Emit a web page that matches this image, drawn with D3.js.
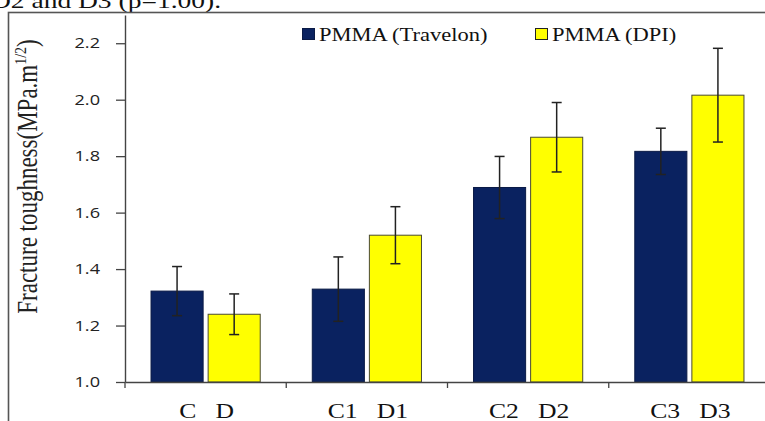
<!DOCTYPE html>
<html>
<head>
<meta charset="utf-8">
<script src="https://cdn.jsdelivr.net/npm/d3@7"></script>
<style>
  html, body { margin: 0; padding: 0; background: #fff; overflow: hidden; }
  svg { display: block; }
</style>
</head>
<body>
<svg id="chart" width="765" height="421"></svg>
<script>
// ---- data ----
const categories = ["C   D", "C1   D1", "C2   D2", "C3   D3"];
const seriesNames = ["PMMA (Travelon)", "PMMA (DPI)"];
const travelon = [1.322, 1.329, 1.689, 1.817];
const travelonSD = [0.087, 0.114, 0.110, 0.082];
const dpi = [1.240, 1.520, 1.867, 2.016];
const dpiSD = [0.072, 0.101, 0.123, 0.166];
const yTicks = [1.0, 1.2, 1.4, 1.6, 1.8, 2.0, 2.2];
const yLabel = "Fracture toughness(MPa.m";
const caption = "D2 and D3 (p=1.00).";

// ---- layout ----
const SX = 1.25;                // horizontal stretch of the original picture
const colors = ["#0a2260", "#ffff00"];
const strokes = ["#0a1a45", "#4a4a30"];
const svg = d3.select("#chart");
const plot = { left: 125, right: 770, top: 15, bottom: 382 };

const y = d3.scaleLinear().domain([1.0, 2.3]).range([plot.bottom, plot.top]);
const x = d3.scaleBand().domain(categories).range([plot.left, plot.right]).paddingInner(0).paddingOuter(0);
const xs = d3.scaleBand().domain(seriesNames).range([0, x.bandwidth()]).paddingInner(0.0877).paddingOuter(0.456);

const rows = categories.map((c, i) => ({
  cat: c,
  vals: [
    { s: seriesNames[0], v: travelon[i], sd: travelonSD[i], k: 0 },
    { s: seriesNames[1], v: dpi[i], sd: dpiSD[i], k: 1 }
  ]
}));

// caption (cut at top)
svg.append("text")
  .attr("transform", `translate(-9,8) scale(${SX},1)`)
  .attr("font-family", "'Liberation Serif','Times New Roman',serif")
  .attr("font-size", 22)
  .attr("fill", "#111")
  .text(caption);

// frame
svg.append("rect")
  .attr("x", 8.5).attr("y", 12.5).attr("width", 820).attr("height", 500)
  .attr("fill", "none").attr("stroke", "#555").attr("stroke-width", 1.6);

// bars
const g = svg.append("g");
const grp = g.selectAll("g.grp").data(rows).join("g")
  .attr("class", "grp")
  .attr("transform", d => `translate(${x(d.cat)},0)`);

grp.selectAll("rect").data(d => d.vals).join("rect")
  .attr("x", d => xs(d.s))
  .attr("y", d => y(d.v))
  .attr("width", xs.bandwidth())
  .attr("height", d => y(1.0) - y(d.v))
  .attr("fill", d => colors[d.k])
  .attr("stroke", d => strokes[d.k])
  .attr("stroke-width", 1);

// error bars
const eb = grp.selectAll("g.eb").data(d => d.vals).join("g").attr("class", "eb");
eb.append("line")
  .attr("x1", d => xs(d.s) + xs.bandwidth() / 2)
  .attr("x2", d => xs(d.s) + xs.bandwidth() / 2)
  .attr("y1", d => y(d.v + d.sd))
  .attr("y2", d => y(d.v - d.sd))
  .attr("stroke", "#222").attr("stroke-width", 1.5);
[1, -1].forEach(sgn => {
  eb.append("line")
    .attr("x1", d => xs(d.s) + xs.bandwidth() / 2 - 5)
    .attr("x2", d => xs(d.s) + xs.bandwidth() / 2 + 5)
    .attr("y1", d => y(d.v + sgn * d.sd))
    .attr("y2", d => y(d.v + sgn * d.sd))
    .attr("stroke", "#222").attr("stroke-width", 1.5);
});

// y axis
const yAxis = svg.append("g")
  .attr("transform", `translate(${plot.left},0)`)
  .call(d3.axisLeft(y).tickValues(yTicks).tickFormat(d3.format(".1f")).tickSizeInner(9).tickSizeOuter(0).tickPadding(16));
yAxis.select(".domain").attr("stroke", "#444").attr("stroke-width", 1.4);
yAxis.selectAll(".tick line").attr("stroke", "#444").attr("stroke-width", 1.3);
yAxis.selectAll(".tick text")
  .attr("font-family", "'Open Sans','Noto Sans',sans-serif")
  .attr("font-size", 14.5)
  .attr("fill", "#222")
  .attr("transform", function () { const xx = +d3.select(this).attr("x"); return `translate(${xx},0) scale(${SX},1)`; })
  .attr("x", 0);

// x axis
const xAxis = svg.append("g")
  .attr("transform", `translate(0,${plot.bottom})`)
  .call(d3.axisBottom(x).tickSize(0).tickSizeOuter(0).tickFormat(""));
xAxis.select(".domain").attr("stroke", "#444").attr("stroke-width", 1.4);
xAxis.selectAll(".tick").remove();
// boundary ticks between groups
const bounds = categories.map(c => x(c)).concat([x(categories[categories.length - 1]) + x.bandwidth()]);
xAxis.selectAll("line.bt").data(bounds).join("line")
  .attr("class", "bt")
  .attr("x1", d => d).attr("x2", d => d)
  .attr("y1", 0).attr("y2", 6)
  .attr("stroke", "#444").attr("stroke-width", 1.3);
// category labels
svg.selectAll("text.xl").data(categories).join("text")
  .attr("class", "xl")
  .attr("transform", d => `translate(${x(d) + x.bandwidth() / 2 + 1},418) scale(${SX},1)`)
  .attr("text-anchor", "middle")
  .attr("font-family", "'Liberation Serif','Times New Roman',serif")
  .attr("font-size", 20.5)
  .attr("fill", "#111")
  .style("white-space", "pre")
  .text(d => d);

// y label
const yl = svg.append("text")
  .attr("transform", `translate(37,${(38 + 315) / 2}) scale(${SX},1) rotate(-90)`)
  .attr("text-anchor", "middle")
  .attr("font-family", "'Liberation Serif','Times New Roman',serif")
  .attr("font-size", 23)
  .attr("fill", "#222");
yl.append("tspan").text(yLabel);
yl.append("tspan").attr("font-size", 14).attr("dy", -9).text("1/2");
yl.append("tspan").attr("dy", 9).text(")");

// legend
const legendPos = [302, 535];
const lg = svg.selectAll("g.lg").data(seriesNames).join("g")
  .attr("class", "lg")
  .attr("transform", (d, i) => `translate(${legendPos[i]},28)`);
lg.append("rect")
  .attr("x", 0.5).attr("y", 0.5).attr("width", 12).attr("height", 11)
  .attr("fill", (d, i) => colors[i])
  .attr("stroke", (d, i) => i === 0 ? "#0a1a45" : "#222")
  .attr("stroke-width", 1);
lg.append("text")
  .attr("transform", `translate(17,12.5) scale(${SX},1)`)
  .attr("font-family", "'Liberation Serif','Times New Roman',serif")
  .attr("font-size", 18)
  .attr("fill", "#111")
  .text(d => d);
</script>
</body>
</html>
